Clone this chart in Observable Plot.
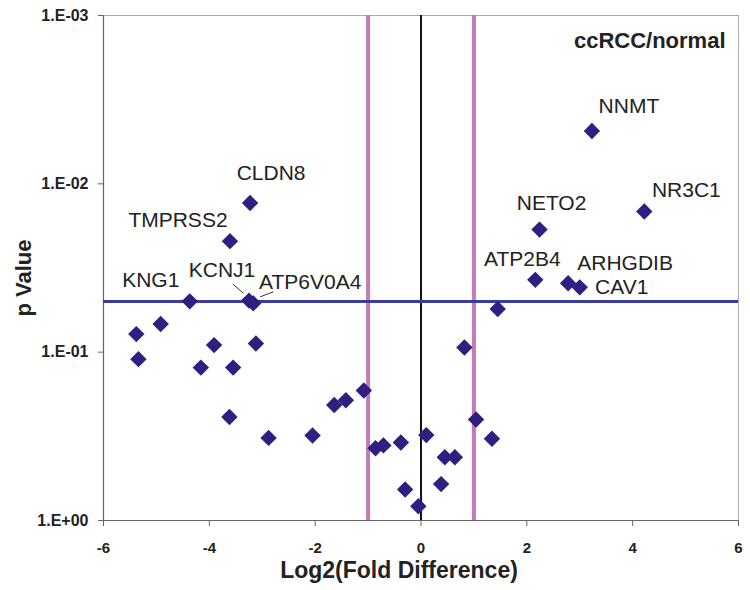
<!DOCTYPE html>
<html>
<head>
<meta charset="utf-8">
<script src="https://cdn.jsdelivr.net/npm/d3@7"></script>
<script src="https://cdn.jsdelivr.net/npm/@observablehq/plot@0.6"></script>
<style>
  html, body { margin: 0; padding: 0; background: #fff; }
</style>
</head>
<body>
<div id="chart"></div>
<script>
// ---- data ----
const genes = ["NNMT","NR3C1","NETO2","ATP2B4","ARHGDIB","CAV1","","CLDN8","TMPRSS2","KNG1","KCNJ1","ATP6V0A4",
  "","","","","","","","","","","","","","","","","","","","","","","","",""];
const log2FoldDiff = [3.23, 4.22, 2.24, 2.16, 2.78, 3.00, 1.45, -3.23, -3.61, -4.37, -3.25, -3.17,
  -5.38, -4.92, -5.34, -3.91, -4.16, -3.12, -3.55, -3.62, -2.88, -2.05, -1.64, -1.42, -1.08,
  -0.86, -0.71, -0.38, -0.30, -0.05, 0.10, 0.45, 0.64, 0.38, 0.82, 1.04, 1.34];
const pValues = [0.00485, 0.0146, 0.0187, 0.0372, 0.039, 0.0412, 0.0554, 0.0130, 0.0219, 0.0499, 0.0494, 0.0513,
  0.0781, 0.0681, 0.110, 0.0908, 0.1235, 0.0888, 0.1235, 0.243, 0.323, 0.313, 0.206, 0.193, 0.169,
  0.372, 0.358, 0.344, 0.655, 0.823, 0.311, 0.421, 0.421, 0.608, 0.0938, 0.251, 0.327];
const xTicks = [-6, -4, -2, 0, 2, 4, 6];
const xTickLabels = ["-6", "-4", "-2", "0", "2", "4", "6"];
const yTicks = [1, 0.1, 0.01, 0.001];
const yTickLabels = ["1.E+00", "1.E-01", "1.E-02", "1.E-03"];
const pThreshold = [0.05];
const foldThresholds = [-1, 1];
const zeroLine = [0];
const panelLabel = "ccRCC/normal";
const xTitle = "Log2(Fold Difference)";
const yTitle = "p Value";

// ---- layout (label placement, pixels) ----
const labelOffsets = {
  NNMT: [37, -25], NR3C1: [42, -21], NETO2: [12, -26], ATP2B4: [-13, -21],
  ARHGDIB: [57, -20], CAV1: [42, 0], CLDN8: [21, -30], TMPRSS2: [-52, -21],
  KNG1: [-39, -21], KCNJ1: [-27, -30], ATP6V0A4: [57, -21]
};
const leaders = { KCNJ1: [-15.6, -16, -5, -6.7], ATP6V0A4: [7.3, -6, 20.6, -11] };

const points = genes.map((g, i) => ({ gene: g, x: log2FoldDiff[i], p: pValues[i] }));
const labelled = points.filter(d => d.gene);

const textColor = "#222";
const pointColor = "#2e1f80";

const labelMarks = labelled.map(d => Plot.text([d], {
  x: "x", y: "p", text: "gene",
  dx: labelOffsets[d.gene][0], dy: labelOffsets[d.gene][1],
  fontSize: 21, fill: textColor
}));

const leaderMark = (index, scales) => {
  const g = d3.create("svg:g").attr("stroke", "#333").attr("stroke-width", 1);
  for (const d of labelled) {
    const L = leaders[d.gene];
    if (!L) continue;
    const px = scales.x(d.x), py = scales.y(d.p);
    g.append("line").attr("x1", px + L[0]).attr("y1", py + L[1]).attr("x2", px + L[2]).attr("y2", py + L[3]);
  }
  return g.node();
};

const chart = Plot.plot({
  width: 750,
  height: 590,
  marginLeft: 103,
  marginRight: 12,
  marginTop: 15,
  marginBottom: 70,
  style: { fontFamily: "'Liberation Sans', Arial, sans-serif", background: "#fff", color: textColor },
  x: { domain: [-6, 6] },
  y: { type: "log", domain: [1, 0.001] },
  marks: [
    Plot.frame({ stroke: "#aaa" }),
    Plot.ruleX([-6], { stroke: "#666", strokeWidth: 1.2 }),
    Plot.ruleY([1], { stroke: "#666", strokeWidth: 1.2 }),
    Plot.axisX({ ticks: xTicks, tickFormat: (d) => xTickLabels[xTicks.indexOf(d)], tickSize: 6, tickPadding: 16, fontSize: 15, fontWeight: "bold", label: null, stroke: "#666" }),
    Plot.axisY({ ticks: yTicks, tickFormat: (d) => yTickLabels[yTicks.indexOf(d)], tickSize: 5, tickPadding: 10, fontSize: 16, fontWeight: "bold", label: null, stroke: "#666" }),
    Plot.ruleX(foldThresholds, { stroke: "#c47ab9", strokeWidth: 4 }),
    Plot.ruleX(zeroLine, { stroke: "#111", strokeWidth: 2 }),
    Plot.ruleY(pThreshold, { stroke: "#3c3c9c", strokeWidth: 3 }),
    Plot.dot(points, { x: "x", y: "p", symbol: "diamond2", r: 7.4, fill: pointColor, stroke: "none" }),
    ...labelMarks,
    leaderMark,
    Plot.text([panelLabel], { frameAnchor: "top-right", textAnchor: "end", lineAnchor: "middle", dx: -13, dy: 25, fontSize: 22, fontWeight: "bold", letterSpacing: 1, fill: textColor }),
    Plot.text([xTitle], { frameAnchor: "bottom", textAnchor: "middle", lineAnchor: "middle", dx: -22, dy: 50, fontSize: 23, fontWeight: "bold", fill: textColor }),
    Plot.text([yTitle], { frameAnchor: "left", textAnchor: "middle", lineAnchor: "middle", rotate: -90, dx: -80, dy: 10, fontSize: 22, fontWeight: "bold", fill: textColor })
  ]
});
document.getElementById("chart").appendChild(chart);
</script>
</body>
</html>
